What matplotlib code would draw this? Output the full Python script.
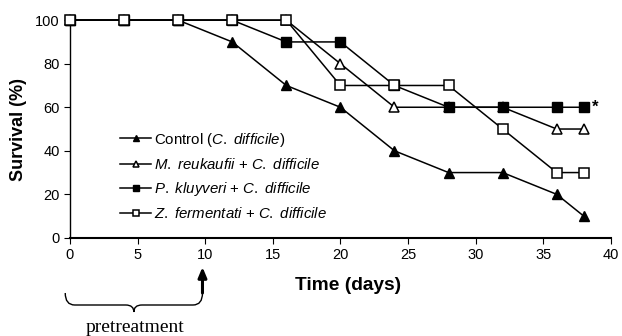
import numpy as np
import matplotlib
matplotlib.use('Agg')
import matplotlib.pyplot as plt
from matplotlib.path import Path
from matplotlib.patches import PathPatch
import matplotlib.transforms as mtransforms

plt.rcParams['font.family'] = ['Liberation Sans', 'DejaVu Sans']
plt.rcParams['mathtext.fontset'] = 'custom'
plt.rcParams['mathtext.it'] = 'Liberation Sans:italic'
plt.rcParams['mathtext.rm'] = 'Liberation Sans'

# data
days = [0, 4, 8, 12, 16, 20, 24, 28, 32, 36, 38]
control = [100, 100, 100, 90, 70, 60, 40, 30, 30, 20, 10]
reukaufii = [100, 100, 100, 100, 100, 80, 60, 60, 60, 50, 50]
kluyveri = [100, 100, 100, 100, 90, 90, 70, 60, 60, 60, 60]
fermentati = [100, 100, 100, 100, 100, 70, 70, 70, 50, 30, 30]

labels = [r'Control ($\mathit{C.}$ $\mathit{difficile}$)',
          r'$\mathit{M.}$ $\mathit{reukaufii}$ + $\mathit{C.}$ $\mathit{difficile}$',
          r'$\mathit{P.}$ $\mathit{kluyveri}$ + $\mathit{C.}$ $\mathit{difficile}$',
          r'$\mathit{Z.}$ $\mathit{fermentati}$ + $\mathit{C.}$ $\mathit{difficile}$']

fig = plt.figure(figsize=(6.22, 3.36), dpi=100)
ax = fig.add_axes([0.1125, 0.292, 0.8695, 0.648])

ms = 6.5
ax.plot(days, control, '-', color='black', lw=1.1, marker='^', ms=7,
        mfc='black', mec='black', label=labels[0], clip_on=False, zorder=3)
ax.plot(days, reukaufii, '-', color='black', lw=1.1, marker='^', ms=7,
        mfc='white', mec='black', mew=1.1, label=labels[1], clip_on=False, zorder=3)
ax.plot(days, kluyveri, '-', color='black', lw=1.1, marker='s', ms=ms,
        mfc='black', mec='black', label=labels[2], clip_on=False, zorder=3)
ax.plot(days, fermentati, '-', color='black', lw=1.1, marker='s', ms=ms,
        mfc='white', mec='black', mew=1.1, label=labels[3], clip_on=False, zorder=3)

ax.text(38.6, 60, '*', fontsize=12, fontweight='bold', va='center', ha='left')

ax.set_xlim(0, 40)
ax.set_ylim(0, 100)
ax.set_xticks(range(0, 41, 5))
ax.set_yticks(range(0, 101, 20))
ax.spines['top'].set_visible(False)
ax.spines['right'].set_visible(False)
ax.spines['left'].set_linewidth(1.0)
ax.spines['bottom'].set_linewidth(1.5)
ax.tick_params(axis='both', labelsize=10.5, length=4, direction='out')
ax.set_xlabel('Time (days)', fontsize=13.8, fontweight='bold')
ax.xaxis.set_label_coords(0.514, -0.18)
ax.set_ylabel('Survival (%)', fontsize=13, fontweight='bold', labelpad=6)

leg = ax.legend(loc='upper left', bbox_to_anchor=(0.081, 0.52), frameon=False,
                fontsize=10.8, handlelength=2.1, handletextpad=0.15,
                labelspacing=0.55, borderaxespad=0, markerscale=0.7)

# brace and arrow under the x axis (x in data, y in figure pixels)
trans = mtransforms.blended_transform_factory(ax.transData, fig.transFigure)
x0, x1 = -0.35, 9.8
xm = (x0 + x1) / 2
ytop = 1 - 293 / 336
ymid = 1 - 305 / 336
ybot = 1 - 312 / 336
verts = [(x0, ytop), (x0, ymid), (x0 + 0.7, ymid),
         (xm - 0.6, ymid),
         (xm, ymid), (xm, ybot),
         (xm, ymid), (xm + 0.6, ymid),
         (x1 - 0.7, ymid),
         (x1, ymid), (x1, ytop)]
codes = [Path.MOVETO, Path.CURVE3, Path.CURVE3,
         Path.LINETO,
         Path.CURVE3, Path.CURVE3,
         Path.CURVE3, Path.CURVE3,
         Path.LINETO,
         Path.CURVE3, Path.CURVE3]
brace = PathPatch(Path(verts, codes), transform=trans, fill=False,
                  lw=1.0, color='black', clip_on=False)
fig.patches.append(brace)

ax.annotate('', xy=(x1, 1 - 267 / 336), xycoords=trans,
            xytext=(x1, ytop), textcoords=trans,
            arrowprops=dict(arrowstyle='-|>,head_length=0.6,head_width=0.25',
                            lw=2.2, color='black', shrinkA=0, shrinkB=0))

fig.text(135 / 622, 1 - 328 / 336, 'pretreatment', family='Liberation Serif',
         fontsize=14, ha='center', va='center')

fig.savefig('out.png', dpi=100)
